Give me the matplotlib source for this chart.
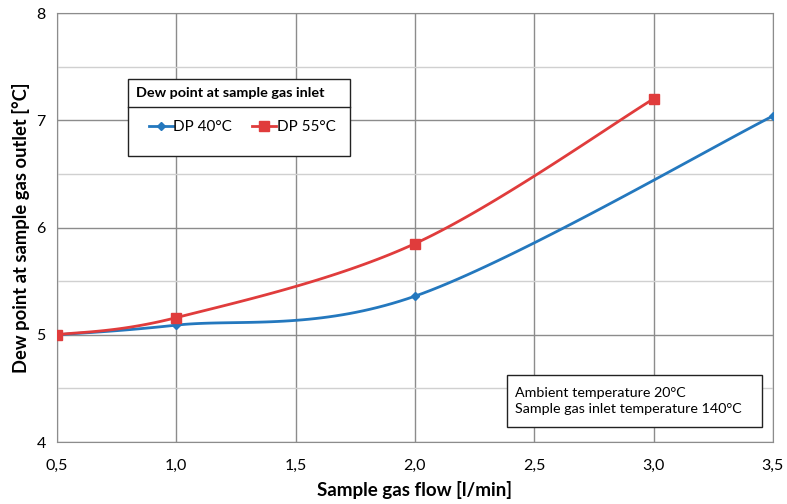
import numpy as np
import matplotlib
matplotlib.use("Agg")
import matplotlib.pyplot as plt
from matplotlib.patches import Rectangle
from matplotlib.lines import Line2D

plt.rcParams['font.family'] = ['Lato', 'DejaVu Sans']

x40 = [0.5, 1.0, 2.0, 3.5]
y40 = [5.0, 5.09, 5.36, 7.04]
x55 = [0.5, 1.0, 2.0, 3.0]
y55 = [5.0, 5.16, 5.85, 7.2]
xticks = [0.5, 1.0, 1.5, 2.0, 2.5, 3.0, 3.5]
xticklabels = ["0,5", "1,0", "1,5", "2,0", "2,5", "3,0", "3,5"]
yticks = [4, 5, 6, 7, 8]
labels = ["DP 40°C", "DP 55°C"]
legend_title = "Dew point at sample gas inlet"
note = "Ambient temperature 20°C\nSample gas inlet temperature 140°C"

c40 = "#2478be"
c55 = "#e03c3c"


def smooth(xs, ys, n=40):
    P = np.column_stack([np.asarray(xs, float), np.asarray(ys, float)])
    out = []
    m = len(P)
    for i in range(m - 1):
        p0 = P[i - 1] if i > 0 else P[i]
        p1 = P[i]
        p2 = P[i + 1]
        p3 = P[i + 2] if i + 2 < m else P[i + 1]
        c1 = p1 + (p2 - p0) / 6.0
        c2 = p2 - (p3 - p1) / 6.0
        t = np.linspace(0, 1, n)[:, None]
        seg = ((1 - t) ** 3) * p1 + 3 * ((1 - t) ** 2) * t * c1 + 3 * (1 - t) * t ** 2 * c2 + t ** 3 * p2
        if i > 0:
            seg = seg[1:]
        out.append(seg)
    out = np.vstack(out)
    return out[:, 0], out[:, 1]


fig = plt.figure(figsize=(7.87, 5.04), dpi=100)
ax = fig.add_axes([0.0724, 0.123, 0.9096, 0.851])

ax.set_xlim(0.5, 3.5)
ax.set_ylim(4, 8)
ax.set_xticks(xticks)
ax.set_xticklabels(xticklabels)
ax.set_yticks(yticks)
ax.set_yticks([4.5, 5.5, 6.5, 7.5], minor=True)
ax.grid(which='major', color='#8c8c8c', linewidth=1.0)
ax.grid(which='minor', axis='y', color='#d0d0d0', linewidth=1.0)
ax.tick_params(which='both', length=0, labelsize=11.5)
ax.tick_params(axis='x', pad=12)
ax.tick_params(axis='y', pad=8)
ax.tick_params(axis='y', which='minor', labelleft=False)
for s in ax.spines.values():
    s.set_color('#8c8c8c')
ax.set_axisbelow(True)

sx, sy = smooth(x40, y40)
ax.plot(sx, sy, color=c40, lw=2, zorder=3)
ax.plot(x40, y40, 'D', color=c40, ms=4.5, zorder=4)
sx, sy = smooth(x55, y55)
ax.plot(sx, sy, color=c55, lw=2, zorder=3)
ax.plot(x55, y55, 's', color=c55, ms=6.5, zorder=4)

ax.set_xlabel("Sample gas flow [l/min]", fontsize=13.5, fontweight='bold', labelpad=6)
ax.set_ylabel("Dew point at sample gas outlet [°C]", fontsize=13.2, fontweight='bold', labelpad=5)

# legend box
ax.add_patch(Rectangle((0.099, 0.667), 0.310, 0.179, transform=ax.transAxes,
                       facecolor='white', edgecolor='#222222', lw=1, zorder=5))
ax.add_line(Line2D([0.099, 0.409], [0.781, 0.781], transform=ax.transAxes,
                   color='#222222', lw=1, zorder=6))
ax.text(0.111, 0.814, legend_title, transform=ax.transAxes, fontsize=10.4,
        fontweight='bold', va='center', ha='left', zorder=7)
handles = [Line2D([], [], color=c40, lw=2, marker='D', ms=4.5),
           Line2D([], [], color=c55, lw=2, marker='s', ms=6.5)]
leg = ax.legend(handles, labels, loc='center left', bbox_to_anchor=(0.1285, 0.734),
                ncol=2, frameon=False, fontsize=11, handlelength=1.55,
                handletextpad=0.05, columnspacing=1.3, borderpad=0, borderaxespad=0)
leg.set_zorder(8)

# note box
ax.add_patch(Rectangle((0.628, 0.035), 0.357, 0.121, transform=ax.transAxes,
                       facecolor='white', edgecolor='#222222', lw=1, zorder=5))
ax.text(0.640, 0.096, note, transform=ax.transAxes, fontsize=10.3, va='center',
        ha='left', linespacing=1.45, zorder=7)

fig.savefig("out.png", dpi=100)
